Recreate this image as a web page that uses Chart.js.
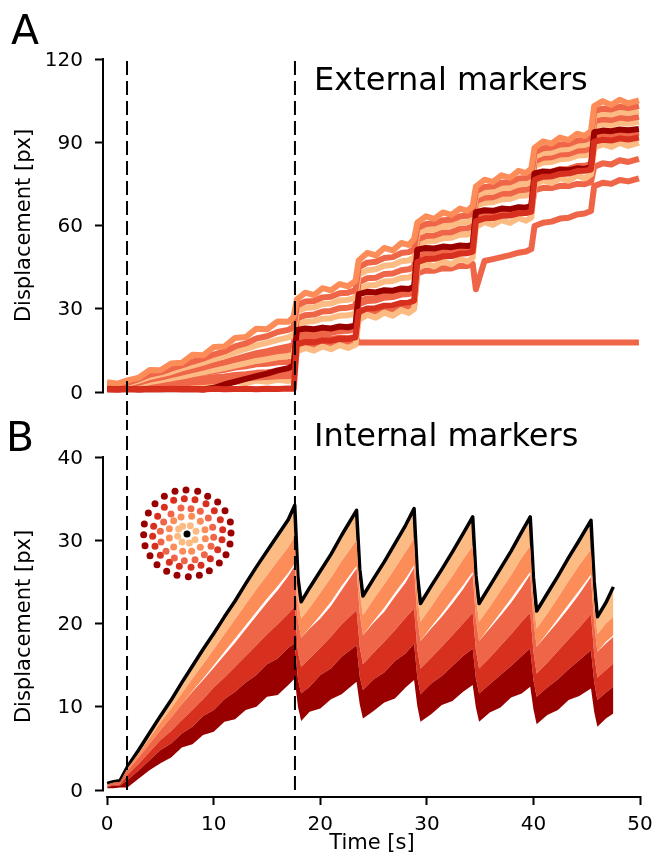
<!DOCTYPE html>
<html>
<head>
<meta charset="utf-8">
<script src="https://cdn.jsdelivr.net/npm/chart.js@4.4.1/dist/chart.umd.min.js"></script>
<style>
  body { margin: 0; background: #fff; width: 656px; height: 857px; position: relative; overflow: hidden; font-family: "DejaVu Sans", sans-serif; }
  canvas { position: absolute; left: 0; }
  .lbl { position: absolute; line-height: 1; color: #000; white-space: nowrap; }
</style>
</head>
<body>
<canvas id="chartA" width="656" height="420" style="top:0"></canvas>
<canvas id="chartB" width="656" height="437" style="top:420px"></canvas>
<canvas id="inset" width="104" height="104" style="left:135px;top:482px"></canvas>
<div class="lbl" style="left:11px;top:10px;font-size:41px">A</div>
<div class="lbl" style="left:6px;top:417px;font-size:41px">B</div>
<div class="lbl" style="left:314px;top:63px;font-size:32px">External markers</div>
<div class="lbl" style="left:314px;top:419px;font-size:32px">Internal markers</div>
<script>
// ---- data -----------------------------------------------------------------
var dashTimes = [1.86, 17.62];
var ticksExt = [0, 30, 60, 90, 120];
var ticksInt = [0, 10, 20, 30, 40];
var ticksTime = [0, 10, 20, 30, 40, 50];

// panel A: external markers, displacement [px] sampled at timeA [s]
var timeA = [0,1,1.9,3,4,5,6,7,8,9,10,11,12,13,14,15,16,17,17.5,
  17.8,18.6,19.4,20.2,21.0,21.8,22.6,23.3,
  23.6,24.4,25.2,26.0,26.8,27.6,28.3,28.8,
  29.1,29.9,30.7,31.5,32.3,33.1,33.8,34.3,
  34.6,35.4,36.2,37.0,37.8,38.6,39.3,39.8,
  40.1,40.9,41.7,42.5,43.3,44.1,44.8,45.4,
  45.7,46.5,47.3,48.1,48.9,49.9];

var ext9 = [3.5,3.0,4.2,5.2,7.9,7.8,10.3,10.5,13.4,13.2,16.2,16.4,19.5,19.8,22.8,22.6,25.4,25.3,27.2,
  33.4,35.8,34.9,37.4,36.6,38.9,38.1,40.0,
  47.4,50.1,49.2,51.9,51.0,53.7,53.0,55.1,
  61.0,63.3,62.4,64.7,63.8,66.1,65.3,67.0,
  74.0,76.5,75.7,78.1,77.2,79.7,78.9,80.5,
  88.0,90.3,89.5,91.7,90.8,93.1,92.3,94.0,
  103.0,104.8,103.4,105.3,104.0,105.1];
var ext8 = [3.0,2.8,3.3,4.7,6.3,7.1,8.4,9.6,10.9,12.0,13.5,14.6,16.4,17.5,19.3,20.1,21.6,22.4,23.5,
  31.2,32.6,32.8,34.1,34.3,35.6,35.8,36.7,
  44.9,46.6,46.9,48.3,48.6,50.1,50.4,51.5,
  59.1,60.5,60.7,61.9,62.1,63.3,63.5,64.3,
  72.3,73.9,74.1,75.4,75.6,76.9,77.1,77.9,
  86.4,87.8,88.1,89.2,89.4,90.6,90.8,91.7,
  101.2,102.1,101.8,102.8,102.3,103.1];
var ext7 = [2.6,2.4,2.9,4.1,5.4,6.3,7.2,8.5,9.5,10.6,11.8,12.9,14.3,15.5,16.8,17.7,18.8,19.7,20.5,
  29.0,30.3,30.5,31.7,31.9,33.0,33.2,34.0,
  42.3,43.9,44.2,45.5,45.8,47.1,47.4,48.5,
  57.1,58.4,58.6,59.7,59.9,61.1,61.3,62.1,
  70.6,72.0,72.2,73.4,73.6,74.8,75.0,75.8,
  84.8,86.1,86.3,87.4,87.6,88.8,89.0,89.8,
  99.5,100.3,100.0,100.9,100.5,101.2];
var ext6 = [2.2,2.0,2.4,3.4,4.5,5.2,6.1,7.0,7.9,8.8,9.8,10.7,11.8,12.9,14.0,14.7,15.6,16.4,17.0,
  26.5,27.7,27.9,29.0,29.2,30.2,30.4,31.0,
  39.5,41.0,41.2,42.5,42.7,43.9,44.2,45.2,
  54.9,56.2,56.4,57.5,57.6,58.8,59.0,59.7,
  68.7,70.0,70.2,71.4,71.5,72.7,72.9,73.6,
  83.1,84.4,84.6,85.6,85.8,86.9,87.1,87.8,
  97.5,98.3,98.0,98.9,98.5,99.2];
var ext5 = [1.8,1.7,2.0,2.8,3.6,4.2,4.9,5.6,6.4,7.1,7.9,8.6,9.5,10.3,11.2,11.8,12.5,13.0,13.5,
  24.2,25.3,25.5,26.4,26.6,27.5,27.7,28.2,
  37.0,38.4,38.6,39.8,40.0,41.1,41.3,42.2,
  53.0,54.2,54.4,55.4,55.6,56.7,56.8,57.5,
  67.0,68.2,68.4,69.4,69.6,70.7,70.8,71.5,
  81.5,82.7,82.9,83.9,84.1,85.2,85.3,86.0,
  95.7,96.5,96.2,97.1,96.7,97.4];
var ext4 = [1.0,0.9,1.1,0.9,1.1,1.0,1.1,1.0,1.1,0.9,1.5,2.7,3.7,4.7,5.7,6.6,7.8,8.6,9.6,
  22.4,22.9,22.6,23.2,22.9,23.6,23.3,23.9,
  35.3,36.1,35.9,36.7,36.5,37.3,37.1,37.9,
  51.3,51.9,51.7,52.4,52.2,52.8,52.6,53.1,
  64.8,65.5,65.3,66.1,65.9,66.6,66.4,67.1,
  78.8,79.5,79.3,80.1,79.9,80.6,80.4,81.1,
  93.6,94.2,94.0,94.6,94.3,94.8];
var ext3 = [1.5,1.4,1.6,1.9,2.3,2.5,2.8,3.0,3.4,3.6,4.0,4.2,4.6,4.9,5.2,5.4,5.7,5.8,6.0,
  19.5,20.4,20.5,21.2,21.3,22.0,22.1,22.5,
  31.6,32.8,33.0,34.0,34.2,35.1,35.3,36.0,
  48.8,49.9,50.1,51.0,51.2,52.1,52.2,52.8,
  63.3,64.3,64.5,65.4,65.5,66.4,66.5,67.1,
  78.1,79.2,79.4,80.3,80.4,81.4,81.5,82.1,
  92.0,92.7,92.4,93.2,92.8,93.5];
var ext2 = [1.0,0.9,1.1,0.9,1.1,1.0,1.2,1.0,1.1,0.9,1.2,1.0,1.1,1.2,1.0,1.2,1.1,1.3,1.2,
  17.3,18.0,17.9,18.6,18.5,19.2,19.1,19.7,
  29.0,30.1,30.2,31.1,31.2,32.1,32.2,32.9,
  46.8,47.9,48.0,48.9,49.0,49.9,50.0,50.6,
  61.6,62.6,62.7,63.5,63.6,64.4,64.5,65.0,
  76.5,77.6,77.7,78.6,78.7,79.6,79.7,80.2,
  90.2,90.9,90.6,91.4,91.0,91.7];
var ext1 = [2.0,1.6,2.4,2.0,2.8,2.2,3.1,2.5,3.3,2.7,3.6,3.0,3.8,3.2,4.1,3.7,4.4,4.0,4.5,
  14.6,15.9,14.9,16.4,15.4,16.9,15.9,17.0,
  26.0,27.8,26.8,28.6,27.5,29.5,28.5,29.9,
  44.5,46.3,45.2,47.1,46.0,48.0,47.0,48.4,
  59.5,61.2,60.2,61.9,60.9,62.7,61.7,62.9,
  74.5,76.3,75.3,77.1,76.1,78.0,77.0,78.4,
  88.0,89.3,88.3,89.8,88.7,89.9];
// marker lost after the second step
var extLost = [2.4,2.2,2.5,3.2,4.0,4.4,5.0,5.6,6.3,6.8,7.5,8.0,8.8,9.3,10.0,10.2,10.7,10.8,11.0,
  18.3,18.9,18.7,19.3,19.1,19.6,19.4,19.8,
  17.8,17.8,17.8,17.8,17.8,17.8,17.8,17.8,
  17.8,17.8,17.8,17.8,17.8,17.8,17.8,17.8,
  17.8,17.8,17.8,17.8,17.8,17.8,17.8,17.8,
  17.8,17.8,17.8,17.8,17.8,17.8,17.8,17.8,
  17.8,17.8,17.8,17.8,17.8,17.8];
var extLow = [1.7,1.6,1.8,2.3,2.8,3.2,3.6,4.0,4.5,4.8,5.3,5.6,6.1,6.4,6.9,7.1,7.5,7.7,8.0,
  16.0,16.8,16.6,17.3,17.1,17.8,17.6,18.2,
  27.2,28.3,28.2,29.1,29.0,30.0,29.9,30.7,
  42.7,43.8,43.7,44.6,44.5,45.5,45.4,46.2,
  37.0,47.2,47.9,48.6,49.3,50.2,50.6,51.5,
  59.8,61.0,61.4,62.5,62.8,64.0,64.3,65.2,
  74.2,75.4,75.0,76.4,75.9,77.0];
var extMid = [2.0,1.9,2.2,3.0,3.9,4.5,5.3,6.1,7.0,7.7,8.7,9.6,10.6,11.5,12.6,13.3,14.0,14.6,15.0,
  20.7,21.6,21.7,22.5,22.6,23.4,23.5,23.9,
  32.7,33.8,33.9,34.8,34.9,35.8,35.9,36.4,
  47.7,48.8,48.9,49.8,49.9,50.8,50.9,51.4,
  62.2,63.1,63.2,64.0,64.1,64.9,65.0,65.4,
  72.7,73.6,73.5,74.3,74.2,75.0,74.9,75.6,
  81.2,82.4,82.0,83.5,82.9,84.0];

// panel B: internal markers, band edges per ring, sampled at timeB [s]
var timeB = [0,0.6,1.2,1.9,3,4,5,6,7,8,9,10,11,12,13,14,15,16,17,17.6,
  17.9,18.2,19,20,21,22,23.4,
  23.7,24.0,25,26,27,28,28.8,
  29.1,29.4,30.4,31.4,32.4,33.4,34.3,
  34.6,34.9,35.9,36.9,37.9,38.9,39.7,
  40.0,40.3,41.3,42.3,43.3,44.3,45.4,
  45.7,46.0,46.8,47.5];
var intCentre = [0.8,1.0,1.1,2.8,4.9,6.9,8.9,10.8,12.9,14.9,16.9,18.8,20.8,22.7,24.8,26.8,28.7,30.6,32.5,34.2,
  25.5,22.6,24.3,26.3,28.3,30.6,33.6,
  26.5,23.3,25.4,27.4,29.6,31.8,33.8,
  26.0,22.4,24.5,26.5,28.6,30.8,32.8,
  25.8,22.4,24.5,26.6,28.7,31.0,32.8,
  25.5,21.5,23.6,25.7,27.9,30.0,32.4,
  25.0,20.8,22.5,24.4];
var intRing1Low = [0.7,0.9,1.0,2.6,4.5,6.3,8.1,9.8,11.6,13.4,15.1,16.9,18.7,20.5,22.3,24.1,25.8,27.5,29.2,30.5,
  22.9,20.6,21.9,23.7,25.5,27.5,30.0,
  23.8,21.0,22.9,24.7,26.6,28.6,30.2,
  23.4,20.2,22.0,23.9,25.7,27.7,29.3,
  23.2,20.2,22.0,23.9,25.8,27.9,29.3,
  22.9,19.4,21.2,23.1,25.1,27.0,28.9,
  22.5,18.7,20.0,20.8];
var intRing2Low = [0.6,0.8,0.9,2.3,4.0,5.6,7.2,8.7,10.3,11.9,13.4,15.0,16.6,18.2,19.8,21.4,23.0,24.5,26.1,27.2,
  20.4,18.3,19.5,21.0,22.6,24.5,26.9,
  21.2,18.6,20.3,21.9,23.7,25.4,27.0,
  20.8,17.9,19.6,21.2,22.9,24.6,26.2,
  20.6,17.9,19.6,21.3,23.0,24.8,26.2,
  20.4,17.2,18.9,20.6,22.3,24.0,25.9,
  20.0,16.6,17.8,18.6];
var intRing3Top = [0.6,0.8,0.9,2.3,4.0,5.6,7.2,8.7,10.3,11.8,13.2,14.7,16.2,17.7,19.3,20.9,22.5,24.0,25.7,26.9,
  20.4,18.3,19.4,20.6,22.1,24.0,26.6,
  21.2,18.6,20.1,21.4,23.2,24.9,26.7,
  20.8,17.9,19.4,20.8,22.4,24.1,25.9,
  20.6,17.9,19.4,20.9,22.5,24.3,25.9,
  20.4,17.2,18.7,20.2,21.8,23.5,25.6,
  20.0,16.6,17.6,18.4];
var intRing4Top = [0.5,0.6,0.7,1.8,3.2,4.6,6.0,7.1,8.4,9.6,10.9,12.3,13.5,14.8,16.1,17.4,18.7,19.9,21.2,22.0,
  16.6,14.8,15.8,17.1,18.4,19.9,21.6,
  17.2,15.1,16.5,17.8,19.2,20.7,21.8,
  16.9,14.6,15.9,17.2,18.6,20.0,21.3,
  16.8,14.6,15.9,17.3,18.7,20.2,21.3,
  16.6,14.0,15.3,16.7,18.1,19.5,21.1,
  16.3,13.5,14.4,15.2];
var intRing5Top = [0.4,0.5,0.5,1.2,2.4,3.6,4.8,5.6,6.8,7.6,8.9,9.6,10.9,11.8,12.9,13.8,15.1,15.8,17.1,17.6,
  13.3,11.6,12.4,13.8,14.6,16.0,17.4,
  13.6,12.0,13.3,14.1,15.5,16.4,17.6,
  13.5,11.5,12.8,13.7,14.9,16.1,17.0,
  13.4,11.6,12.7,13.8,14.9,16.1,17.0,
  13.2,11.2,12.3,13.3,14.5,15.6,16.8,
  13.0,10.8,11.7,12.4];
var intRing5Low = [0.2,0.2,0.3,0.3,1.4,2.4,3.2,3.9,5.1,5.5,6.6,7.0,8.2,8.5,9.6,10.0,11.2,11.4,12.6,13.4,
  10.0,8.3,9.4,9.8,10.9,11.5,13.0,
  10.3,8.6,9.5,10.5,11.0,12.3,13.2,
  10.1,8.2,9.1,10.2,10.7,11.8,12.6,
  9.9,8.2,9.3,9.9,11.1,11.6,12.4,
  9.7,7.9,9.0,9.6,10.8,11.3,12.2,
  9.4,7.6,8.6,9.2];

// inset: marker layout, one list of [x, y] per ring
var layoutCentre = [[0, 0]];
var layoutRing1 = [[-13,23],[10,25],[27,8],[24,-17],[7,-27],[-15,-24],[-28,-7],[-25,15]];
var layoutRing2 = [[-18,51],[14,53],[40,38],[54,13],[55,-14],[40,-40],[14,-52],[-13,-52],[-40,-39],[-53,-12],[-53,16],[-40,40]];
var layoutRing3 = [[-18,78],[12,76],[40,68],[64,48],[77,20],[80,-10],[72,-37],[52,-62],[24,-77],[-8,-80],[-38,-72],[-63,-52],[-78,-24],[-80,8],[-70,36],[-48,60]];
var layoutRing4 = [[-40,101],[-8,106],[24,103],[57,91],[82,70],[100,43],[107,13],[105,-17],[92,-47],[70,-74],[42,-94],[12,-100],[-23,-97],[-53,-85],[-80,-64],[-96,-37],[-103,-7],[-100,23],[-88,53],[-68,80]];
var layoutRing5 = [[-36,128],[-3,132],[32,128],[62,113],[92,96],[114,70],[130,36],[132,3],[129,-30],[117,-62],[97,-87],[67,-110],[37,-124],[4,-128],[-30,-124],[-61,-112],[-90,-92],[-111,-65],[-126,-35],[-130,-2],[-128,30],[-116,63],[-96,91],[-68,113]];

// ---- styling --------------------------------------------------------------
var PEACH = '#fdbb84', ORANGE = '#fc8d59', SALMON = '#ef6548', RED = '#d7301f', DARK = '#990000';

Chart.defaults.font.family = 'DejaVu Sans';
Chart.defaults.font.size = 20;
Chart.defaults.color = '#000';

// trimmed, slightly offset spines (seaborn despine look) plus the tick labels
var spines = {
  id: 'spines',
  afterDraw: function(chart) {
    var ctx = chart.ctx, area = chart.chartArea;
    var x = chart.scales.x, y = chart.scales.y;
    var yt = y.ticks;
    ctx.save();
    ctx.strokeStyle = '#000';
    ctx.lineWidth = 2;
    ctx.beginPath();
    ctx.moveTo(area.left - 1, y.getPixelForValue(yt[0].value) + 1);
    ctx.lineTo(area.left - 1, y.getPixelForValue(yt[yt.length - 1].value) - 1);
    if (x.options.display) {
      var xt = x.ticks;
      ctx.moveTo(x.getPixelForValue(xt[0].value) - 1, area.bottom + 1);
      ctx.lineTo(x.getPixelForValue(xt[xt.length - 1].value) + 1, area.bottom + 1);
    }
    ctx.stroke();

    ctx.fillStyle = '#000';
    ctx.font = '20px "DejaVu Sans"';
    ctx.textAlign = 'right';
    ctx.textBaseline = 'middle';
    yt.forEach(function(t) {
      ctx.fillText(String(t.value), area.left - 21, y.getPixelForValue(t.value) + 1.5);
    });
    if (x.options.display) {
      ctx.textAlign = 'center';
      ctx.textBaseline = 'alphabetic';
      x.ticks.forEach(function(t) {
        ctx.fillText(String(t.value), x.getPixelForValue(t.value), area.bottom + 34);
      });
    }
    ctx.restore();
  }
};

function fixedTicks(values) {
  return function(scale) {
    scale.ticks = values.map(function(v) { return { value: v }; });
  };
}

function tickGrid() {
  return { display: true, drawOnChartArea: false, drawTicks: true, tickLength: 9, tickWidth: 2, tickColor: '#000' };
}

function yAxis(values, min, max) {
  return {
    type: 'linear', min: min, max: max,
    afterFit: function(s) { s.width = 104; },
    afterBuildTicks: fixedTicks(values),
    border: { display: false },
    grid: tickGrid(),
    ticks: { display: false },
    title: { display: true, text: 'Displacement [px]', font: { size: 21 }, padding: { top: 12, bottom: 0 } }
  };
}

function points(xs, ys) {
  return ys.map(function(v, i) { return { x: xs[i], y: v }; });
}

function dashLine(t, y0, y1) {
  return {
    data: [{ x: t, y: y0 }, { x: t, y: y1 }],
    borderColor: '#000', borderWidth: 2, borderDash: [14, 6],
    pointRadius: 0, fill: false, clip: false, order: 0
  };
}

// ---- panel A ---------------------------------------------------------------
function trace(values, color, order) {
  return {
    data: points(timeA, values),
    borderColor: color, borderWidth: 6, borderJoinStyle: 'round',
    pointRadius: 0, tension: 0, fill: false, clip: false, order: order
  };
}

new Chart(document.getElementById('chartA'), {
  type: 'line',
  data: {
    datasets: [
      trace(ext2, RED, 0.5),
      trace(ext4, DARK, 1),
      trace(ext9, ORANGE, 2),
      trace(ext8, SALMON, 2),
      trace(ext7, PEACH, 2),
      trace(ext6, SALMON, 2),
      trace(ext5, PEACH, 2),
      trace(ext3, SALMON, 2),
      trace(ext1, PEACH, 2),
      trace(extMid, SALMON, 3),
      trace(extLow, SALMON, 3),
      trace(extLost, SALMON, 3),
      dashLine(dashTimes[0], -8.3, 120),
      dashLine(dashTimes[1], -8.3, 120)
    ]
  },
  options: {
    responsive: false,
    animation: false,
    events: [],
    layout: { padding: { top: 59, bottom: 28, left: 0, right: 16 }, autoPadding: false },
    plugins: { legend: { display: false }, tooltip: { enabled: false } },
    scales: {
      x: { type: 'linear', display: false, min: -0.3, max: 50 },
      y: yAxis(ticksExt, 0, 120)
    }
  },
  plugins: [spines]
});

// ---- panel B ---------------------------------------------------------------
function band(values, color, fillTo) {
  return {
    data: points(timeB, values),
    borderColor: 'rgba(0,0,0,0)', borderWidth: 0,
    backgroundColor: color, fill: fillTo,
    pointRadius: 0, tension: 0, order: 1
  };
}

var centreBand = band(intCentre, PEACH, '-1');
centreBand.borderColor = '#000';
centreBand.borderWidth = 3.5;
centreBand.borderJoinStyle = 'round';

new Chart(document.getElementById('chartB'), {
  type: 'line',
  data: {
    datasets: [
      band(intRing5Low, DARK, false),
      band(intRing5Top, DARK, '-1'),
      band(intRing4Top, RED, '-1'),
      band(intRing3Top, SALMON, '-1'),
      band(intRing2Low, ORANGE, false),
      band(intRing1Low, ORANGE, '-1'),
      centreBand,
      dashLine(dashTimes[0], 0, 44.5),
      dashLine(dashTimes[1], 0, 44.5)
    ]
  },
  options: {
    responsive: false,
    animation: false,
    events: [],
    layout: { padding: { top: 37, bottom: 0, left: 0, right: 16 }, autoPadding: false },
    plugins: { legend: { display: false }, tooltip: { enabled: false } },
    scales: {
      x: {
        type: 'linear', min: -0.3, max: 50,
        afterFit: function(s) { s.height = 61; },
        afterBuildTicks: fixedTicks(ticksTime),
        border: { display: false },
        grid: tickGrid(),
        ticks: { display: false },
        title: { display: true, text: 'Time [s]', font: { size: 21 }, padding: { top: 0, bottom: 1 } }
      },
      y: yAxis(ticksInt, -0.72, 40)
    }
  },
  plugins: [spines]
});

// ---- inset: marker layout --------------------------------------------------
function ring(list, color) {
  return {
    data: list.map(function(p) { return { x: p[0], y: p[1] }; }),
    backgroundColor: color, borderWidth: 0, pointRadius: 3.5
  };
}

new Chart(document.getElementById('inset'), {
  type: 'scatter',
  data: {
    datasets: [
      ring(layoutCentre, '#000'),
      ring(layoutRing1, PEACH),
      ring(layoutRing2, ORANGE),
      ring(layoutRing3, SALMON),
      ring(layoutRing4, RED),
      ring(layoutRing5, DARK)
    ]
  },
  options: {
    responsive: false,
    animation: false,
    events: [],
    layout: { padding: 0, autoPadding: false },
    plugins: { legend: { display: false }, tooltip: { enabled: false } },
    scales: {
      x: { display: false, min: -156, max: 156 },
      y: { display: false, min: -156, max: 156 }
    }
  }
});
</script>
</body>
</html>
